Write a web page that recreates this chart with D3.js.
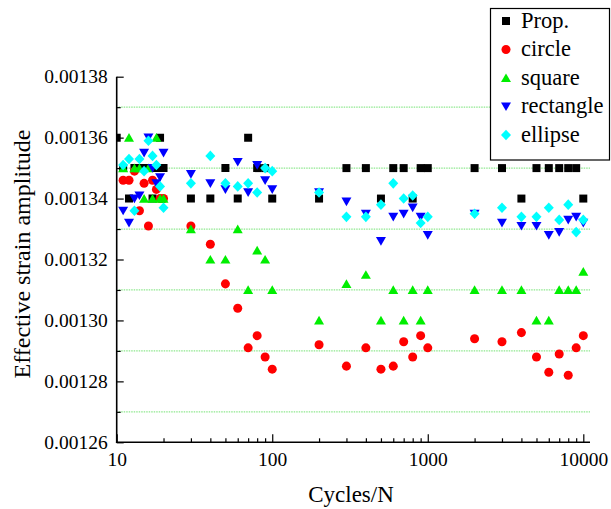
<!DOCTYPE html>
<html><head><meta charset="utf-8">
<script src="https://cdn.jsdelivr.net/npm/d3@7"></script>
<style>
html,body{margin:0;padding:0;background:#fff;}
svg{display:block;}
</style></head>
<body><svg id="chart" width="611" height="509"></svg>
<script>
const cycles = [10,11,12,13,14,15,16,17,18,19,20,30,40,50,60,70,80,90,100,200,300,400,500,600,700,800,900,1000,2000,3000,4000,5000,6000,7000,8000,9000,10000];
const prop = [0.00136,0.00135,0.00134,0.00135,0.00135,0.00135,0.00135,0.00134,0.00135,0.00136,0.00135,0.00134,0.00134,0.00135,0.00134,0.00136,0.00135,0.00135,0.00134,0.00134,0.00135,0.00135,0.00134,0.00135,0.00135,0.00134,0.00135,0.00135,0.00135,0.00135,0.00134,0.00135,0.00135,0.00135,0.00135,0.00135,0.00134];
const circle = [null,0.001346,0.001346,0.001349,0.001336,0.001345,0.001331,0.001346,0.001343,0.00134,0.00134,0.001331,0.001325,0.001312,0.001304,0.001291,0.001295,0.001288,0.001284,0.001292,0.001285,0.001291,0.001284,0.001285,0.001293,0.001288,0.001295,0.001291,0.001294,0.001293,0.001296,0.001288,0.001283,0.001289,0.001282,0.001291,0.001295];
const square = [null,0.00135,0.00136,0.00135,0.00135,0.00134,0.00135,0.00134,0.00136,0.00134,0.00134,0.00133,0.00132,0.00132,0.00133,0.00131,0.001323,0.00132,0.00131,0.0013,0.001312,0.001315,0.0013,0.00131,0.0013,0.00131,0.0013,0.00131,0.00131,0.00131,0.00131,0.0013,0.0013,0.00131,0.00131,0.00131,0.001316];
const rectangle = [null,0.001336,0.001332,0.00134,0.001341,0.001355,0.00136,0.00135,0.001345,0.001347,0.001355,0.001348,0.001345,0.001343,0.001352,0.001342,0.001351,0.001346,0.001343,0.001342,0.001339,0.001335,0.001326,0.001334,0.001335,0.001337,0.001334,0.001328,0.001335,0.001332,0.001331,0.001331,0.001328,0.001329,0.001333,0.001334,0.001332];
const ellipse = [null,0.001351,0.001353,0.001336,0.001353,0.001349,0.001359,0.001354,0.001351,0.001344,0.001337,0.001345,0.001354,0.001345,0.001344,0.001345,0.001342,0.00135,0.001349,0.001342,0.001334,0.001334,0.001338,0.001345,0.00134,0.001341,0.001332,0.001334,0.001335,0.001337,0.001334,0.001334,0.001337,0.001333,0.001338,0.001329,0.001333];
const seriesNames = ["Prop.","circle","square","rectangle","ellipse"];
const yMajorTicks = [0.00126,0.00128,0.0013,0.00132,0.00134,0.00136,0.00138];
const yMinorTicks = [0.00127,0.00129,0.00131,0.00133,0.00135,0.00137];
const xMajorTicks = [10,100,1000,10000];
const xMinorTicks = [20,30,40,50,60,70,80,90,200,300,400,500,600,700,800,900,2000,3000,4000,5000,6000,7000,8000,9000];
const xLabel = "Cycles/N";
const yLabel = "Effective strain amplitude";

const seriesValues = [prop, circle, square, rectangle, ellipse];
const colors = ["#000000","#ff0000","#00ee00","#0000ff","#00ffff"];
const shapes = ["square","circle","up","down","diamond"];
const FONT = "Liberation Serif";

const L = 116.7, R = 583.3, T = 76.7, B = 442.3, axisEnd = 590;
const x = d3.scaleLog().domain([10,10000]).range([L,R]);
const y = d3.scaleLinear().domain([0.00126,0.00138]).range([B,T]);
const svg = d3.select("#chart");

// grid lines
svg.append("g").selectAll("line").data(yMinorTicks).join("line")
  .attr("x1", L+2).attr("x2", axisEnd).attr("y1", d=>y(d)).attr("y2", d=>y(d))
  .attr("stroke","#8ee88e").attr("stroke-width",1.2).attr("stroke-dasharray","1.5,1");

function shapePath(s){
  switch(s){
    case "square": return "M-4,-4H4V4H-4Z";
    case "circle": return d3.symbol(d3.symbolCircle, 64)();
    case "up": return "M0,-4.6L5,4.1L-5,4.1Z";
    case "down": return "M0,4.6L5,-4.1L-5,-4.1Z";
    case "diamond": return "M0,-5.3L5,0L0,5.3L-5,0Z";
  }
}

svg.append("defs").append("clipPath").attr("id","clip")
  .append("rect").attr("x",L).attr("y",0).attr("width",611-L).attr("height",B);

const pts = svg.append("g").attr("clip-path","url(#clip)");
seriesValues.forEach((vals,i)=>{
  const data = cycles.map((c,j)=>({c, v: vals[j]})).filter(d=>d.v!=null);
  pts.append("g").selectAll("path").data(data).join("path")
    .attr("transform", d=>`translate(${x(d.c)},${y(d.v)})`)
    .attr("d", shapePath(shapes[i]))
    .attr("fill", colors[i]);
});

// axes
const fmtY = d3.format(".5f");
const yAxis = d3.axisLeft(y).tickValues(yMajorTicks).tickFormat(fmtY).tickSize(-7).tickPadding(9).tickSizeOuter(0);
const yAxisMinor = d3.axisLeft(y).tickValues(yMinorTicks).tickFormat("").tickSize(-4).tickSizeOuter(0);
const xAxis = d3.axisBottom(x).tickValues(xMajorTicks).tickFormat(d3.format("d")).tickSize(-8).tickPadding(10).tickSizeOuter(0);
const xAxisMinor = d3.axisBottom(x).tickValues(xMinorTicks).tickFormat("").tickSize(-4).tickSizeOuter(0);

function styleAxis(g){
  g.attr("font-family", FONT);
  g.select(".domain").remove();
  g.selectAll(".tick line").attr("stroke","#000").attr("stroke-width",1.2);
  g.selectAll("text").attr("font-family",FONT).attr("font-size","19.5px").attr("fill","#000");
}
svg.append("g").attr("transform",`translate(${L},0)`).call(yAxis).call(styleAxis);
svg.append("g").attr("transform",`translate(${L},0)`).call(yAxisMinor).call(styleAxis);
svg.append("g").attr("transform",`translate(0,${B})`).call(xAxis).call(styleAxis);
svg.append("g").attr("transform",`translate(0,${B})`).call(xAxisMinor).call(styleAxis);

svg.append("line").attr("x1",L).attr("x2",L).attr("y1",T).attr("y2",B+0.75).attr("stroke","#000").attr("stroke-width",1.6);
svg.append("line").attr("x1",L-0.75).attr("x2",axisEnd).attr("y1",B).attr("y2",B).attr("stroke","#000").attr("stroke-width",1.6);

// axis labels
svg.append("text").attr("x",351).attr("y",502).attr("text-anchor","middle")
  .attr("font-family",FONT).attr("font-size","23px").text(xLabel);
svg.append("text").attr("transform","translate(30,254) rotate(-90)").attr("text-anchor","middle")
  .attr("font-family",FONT).attr("font-size","24px").text(yLabel);

// legend
const lg = svg.append("g");
lg.append("rect").attr("x",490.5).attr("y",8.5).attr("width",119).attr("height",151.5)
  .attr("fill","#fff").attr("stroke","#000").attr("stroke-width",1.2);
seriesNames.forEach((n,i)=>{
  const cy = 21 + i*28.5;
  lg.append("path").attr("transform",`translate(506,${cy})`).attr("d",shapePath(shapes[i])).attr("fill",colors[i]);
  lg.append("text").attr("x",521).attr("y",cy+6.5).attr("font-family",FONT).attr("font-size","22.5px").text(n);
});
</script></body></html>
